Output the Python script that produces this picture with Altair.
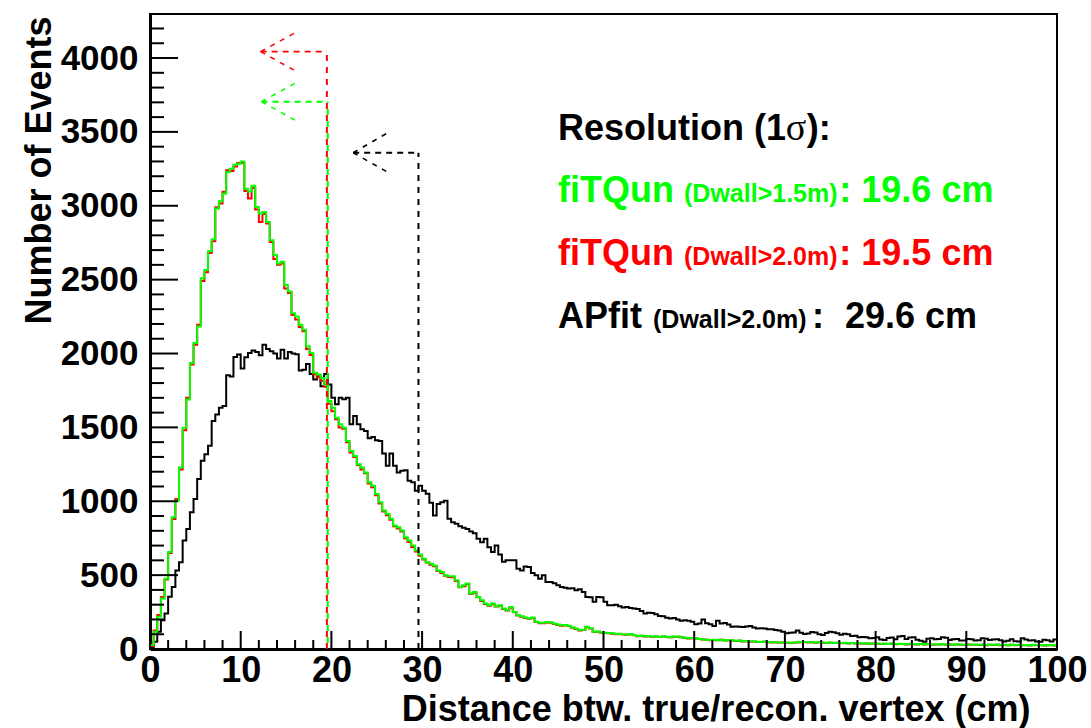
import altair as alt
import pandas as pd

# ---------------- data ----------------
BIN_WIDTH = 0.4  # cm, 250 bins between 0 and 100 cm

apfit_dwall20 = [
    5, 49, 117, 195, 240, 353, 420, 532, 588, 735,
    813, 925, 1015, 1150, 1274, 1319, 1375, 1543, 1588, 1633,
    1644, 1853, 1844, 1976, 1993, 1898, 1974, 2004, 2020, 2010,
    1988, 2060, 2030, 2015, 2000, 1966, 2026, 1966, 2010, 2000,
    1995, 1885, 1890, 1929, 1862, 1824, 1846, 1779, 1862, 1790,
    1700, 1656, 1700, 1690, 1700, 1521, 1577, 1521, 1487, 1476,
    1426, 1435, 1413, 1408, 1323, 1240, 1323, 1240, 1195, 1206,
    1210, 1139, 1128, 1071, 1105, 1071, 1050, 990, 903, 982,
    993, 1004, 881, 858, 847, 830, 820, 813, 795, 784,
    746, 723, 746, 689, 656, 701, 640, 590, 600, 600,
    600, 544, 532, 559, 555, 515, 500, 476, 499, 454,
    454, 445, 431, 420, 415, 409, 412, 398, 405, 386,
    352, 350, 319, 352, 350, 319, 296, 296, 300, 290,
    281, 285, 278, 274, 270, 258, 240, 245, 243, 236,
    224, 222, 212, 207, 210, 200, 191, 194, 192, 184,
    168, 172, 200, 175, 168, 155, 191, 173, 176, 165,
    150, 152, 150, 149, 153, 155, 145, 139, 140, 138,
    134, 133, 128, 125, 117, 106, 110, 112, 125,
    110, 101, 105, 115, 112, 100, 94, 108, 117, 113,
    107, 96, 104, 100, 88, 90, 79, 82, 79, 72,
    74, 79, 65, 61, 75, 78, 66, 85, 88, 67,
    77, 79, 62, 55, 49, 70, 72, 66, 68, 79,
    76, 61, 66, 68, 58, 57, 68, 66, 57, 59,
    72, 70, 61, 64, 66, 60, 51, 55, 66, 53,
    50, 72, 65, 58, 60, 50, 49, 63, 59, 50,
    64,
]

fitqun_dwall15 = [
    27, 117, 218, 341, 476, 656, 892, 1004, 1229, 1498,
    1689, 1936, 2071, 2183, 2509, 2565, 2693, 2774, 2981, 3030,
    3082, 3228, 3250, 3277, 3284, 3300, 3115, 3097, 3135, 2992,
    2947, 2958, 2891, 2767, 2666, 2610, 2621, 2464, 2419, 2273,
    2251, 2195, 2161, 2049, 2004, 1869, 1858, 1835, 1790, 1678,
    1633, 1566, 1521, 1498,
    1408, 1341, 1307, 1251, 1229, 1195, 1128, 1105, 1049, 993,
    937, 914, 881, 836, 824, 802, 757, 735, 701, 667,
    640, 611, 588, 577, 566, 532, 521, 499, 492, 492,
    465, 420, 431, 443, 375, 386, 352, 330, 308, 296,
    308, 290, 296, 274, 263, 285, 251, 229, 222, 213,
    207, 213, 184, 177, 177,
    182, 180, 172, 165, 160, 162, 158, 145, 139, 128,
    130, 150, 140, 117, 118, 112, 110, 108, 106, 101,
    104, 100, 98, 102, 95, 88, 90, 86, 88, 83,
    85, 82, 86, 83, 80, 84, 85, 80, 76, 72,
    74, 72, 68, 65, 63, 61, 62, 60, 63, 58,
    61, 58, 55, 57, 52, 54, 50, 52, 49, 48,
    50, 47, 45, 46, 43, 45, 44, 42, 44, 45,
    47, 48, 45, 46, 44, 47, 43, 42, 44, 41,
    43, 40, 42, 39, 41, 38, 40, 37, 39, 36,
    38, 37, 35, 36, 34, 37, 33, 35, 34, 32,
    35, 33, 31, 34, 32, 33, 30, 32, 31, 33,
    30, 31, 29, 32, 30, 28, 31, 29, 30, 28,
    30, 27, 29, 28, 30, 27, 28, 26, 29, 27,
    28, 26, 27, 25, 28, 26, 27, 25, 26, 27,
    25,
]

fitqun_dwall20 = [
    20, 125, 230, 352, 470, 650, 880, 1015, 1215, 1480,
    1700, 1925, 2060, 2195, 2490, 2550, 2680, 2760, 2990, 3015,
    3095, 3240, 3235, 3265, 3290, 3290, 3100, 3050, 3120, 2975,
    2890, 2945, 2880, 2755, 2640, 2600, 2610, 2440, 2410, 2260,
    2230, 2180, 2150, 2030, 1990, 1860, 1840, 1815, 1775, 1660,
    1610, 1555, 1500, 1490,
    1400, 1330, 1300, 1245, 1215, 1190, 1120, 1095, 1040, 985,
    930, 905, 875, 830, 815, 795, 750, 725, 690, 660,
    632, 605, 585, 570, 560, 528, 515, 495, 488, 485,
    460, 418, 425, 438, 372, 380, 350, 325, 305, 292,
    303, 287, 292, 270, 260, 280, 248, 226, 219, 210,
    205, 210, 182, 175, 174,
    180, 178, 170, 163, 158, 160, 155, 143, 136, 126,
    128, 147, 138, 115, 116, 110, 108, 106, 104, 99,
    102, 98, 97, 100, 93, 87, 89, 85, 87, 82,
    84, 81, 84, 82, 79, 83, 83, 79, 75, 71,
    73, 71, 67, 64, 62, 60, 61, 59, 62, 57,
    60, 57, 54, 56, 51, 53, 49, 51, 48, 47,
    49, 46, 44, 45, 42, 44, 43, 41, 43, 44,
    46, 47, 44, 45, 43, 46, 42, 41, 43, 40,
    42, 39, 41, 38, 40, 37, 39, 36, 38, 35,
    37, 36, 34, 35, 33, 36, 32, 34, 33, 31,
    34, 32, 30, 33, 31, 32, 29, 31, 30, 32,
    29, 30, 28, 31, 29, 27, 30, 28, 29, 27,
    29, 26, 28, 27, 29, 26, 27, 25, 28, 26,
    27, 25, 26, 24, 27, 25, 26, 24, 25, 26,
    24,
]

# resolutions (cm)
res_fitqun15 = 19.6
res_fitqun20 = 19.5
res_apfit = 29.6

x_tick_labels = list(range(0, 101, 10))
x_minor = [v for v in range(0, 101, 2) if v % 10 != 0]
y_tick_labels = list(range(0, 4001, 500))
y_minor = [v for v in range(0, 4201, 100) if v % 500 != 0]

GREEN = "#00ff00"
RED = "#ff0000"
BLACK = "#000000"
FONT = "Liberation Sans"

W, H = 907, 635
xs = alt.Scale(domain=[0, 100], nice=False, zero=False)
ys = alt.Scale(domain=[0, 4298], nice=False, zero=True)

XAXIS = alt.Axis(
    values=x_tick_labels, format="d", labelFontSize=36, labelPadding=4,
    labelFlush=False, labelOverlap=False, labelAngle=0,
    title="Distance btw. true/recon. vertex (cm)", titleFontSize=36,
    titleX=880, titleY=71, titleAlign="right", titleBaseline="alphabetic",
    titleAnchor="end")
YAXIS = alt.Axis(
    values=y_tick_labels, format="d", labelFontSize=35, labelPadding=12,
    labelOverlap=False, labelFlush=False,
    title="Number of Events", titleFontSize=36, titleAngle=270,
    titleX=-100, titleY=2, titleAlign="right", titleBaseline="alphabetic",
    titleAnchor="end")


def X(field):
    return alt.X(field, scale=xs, axis=XAXIS)


def Y(field):
    return alt.Y(field, scale=ys, axis=YAXIS)


def hist_frame(values):
    n = len(values)
    xv = [0.0] + [round(i * BIN_WIDTH, 3) for i in range(n)] + [round(n * BIN_WIDTH, 3)]
    yv = [0] + list(values) + [values[-1]]
    return pd.DataFrame({"x": xv, "y": yv, "i": list(range(len(xv)))})


def hist_layer(values, color):
    return alt.Chart(hist_frame(values)).mark_line(
        interpolate="step-after", color=color, strokeWidth=2, clip=True
    ).encode(x=X("x:Q"), y=Y("y:Q"), order=alt.Order("i:Q"))


def seg(x1, y1, x2, y2, color, width, dash, offset=0):
    df = pd.DataFrame({"x": [x1], "y": [y1], "x2": [x2], "y2": [y2]})
    return alt.Chart(df).mark_rule(
        color=color, strokeWidth=width, strokeDash=dash, strokeDashOffset=offset
    ).encode(x=X("x:Q"), y=Y("y:Q"), x2="x2:Q", y2="y2:Q")


def marker(res, top, tip, armx, up, down, color, offset=0):
    return [
        seg(res, 0, res, top, color, 2, [6, 6], offset),
        seg(tip, top, res, top, color, 1.8, [6, 5]),
        seg(tip, top, armx, up, color, 1.5, [5, 6]),
        seg(tip, top, armx, down, color, 1.5, [5, 6]),
    ]


def label(text, x, y, size, color, font=FONT, weight="bold"):
    df = pd.DataFrame({"t": [text], "x": [x], "y": [y]})
    return alt.Chart(df).mark_text(
        align="left", baseline="alphabetic", font=font, fontSize=size,
        fontWeight=weight, color=color
    ).encode(x=X("x:Q"), y=Y("y:Q"), text="t:N")


def xticks(values, length):
    df = pd.DataFrame({"v": values})
    return alt.Chart(df).mark_rule(color=BLACK, strokeWidth=2).encode(
        x=X("v:Q"), y=alt.value(H), y2=alt.value(H - length))


def yticks(values, length):
    df = pd.DataFrame({"v": values})
    return alt.Chart(df).mark_rule(color=BLACK, strokeWidth=2).encode(
        y=Y("v:Q"), x=alt.value(0), x2=alt.value(length))


layers = [
    hist_layer(apfit_dwall20, BLACK),
    hist_layer(fitqun_dwall20, RED),
    hist_layer(fitqun_dwall15, GREEN),
    xticks(x_tick_labels, 18), xticks(x_minor, 9),
    yticks(y_tick_labels, 28), yticks(y_minor, 14),
]
layers += marker(res_fitqun20, 4043, 12.2, 16.0, 4171, 3914, RED)
layers += marker(res_fitqun15, 3704, 12.3, 16.1, 3833, 3576, GREEN, offset=6)
layers += marker(res_apfit, 3359, 22.4, 26.1, 3490, 3231, BLACK)

layers += [
    label("Resolution (1", 44.98, 3445, 36, BLACK),
    label("\u03c3", 70.1, 3445, 38, BLACK, font="Liberation Serif", weight="normal"),
    label("):", 72.4, 3445, 36, BLACK),
    label("fiTQun", 44.98, 3025, 36, GREEN),
    label("(Dwall>1.5m)", 58.88, 3025, 25, GREEN),
    label(": 19.6 cm", 76.0, 3025, 36, GREEN),
    label("fiTQun", 44.98, 2599, 36, RED),
    label("(Dwall>2.0m)", 58.88, 2599, 25, RED),
    label(": 19.5 cm", 76.0, 2599, 36, RED),
    label("APfit", 44.98, 2173, 36, BLACK),
    label("(Dwall>2.0m)", 55.46, 2173, 25, BLACK),
    label(":", 72.99, 2173, 36, BLACK),
    label("29.6 cm", 76.63, 2173, 36, BLACK),
]

chart = alt.layer(*layers).properties(
    width=W, height=H,
    padding={"left": 150, "top": 14, "right": 34, "bottom": 79},
    autosize=alt.AutoSizeParams(type="none"),
    background="white",
).configure_view(
    stroke=BLACK, strokeWidth=2
).configure_axis(
    grid=False, ticks=False, domain=True, domainColor=BLACK, domainWidth=3,
    labelColor=BLACK, titleColor=BLACK, labelFont=FONT, titleFont=FONT,
    labelFontWeight="bold", titleFontWeight="bold",
)

chart.save("out.html", embed_options={"renderer": "svg", "actions": False})
